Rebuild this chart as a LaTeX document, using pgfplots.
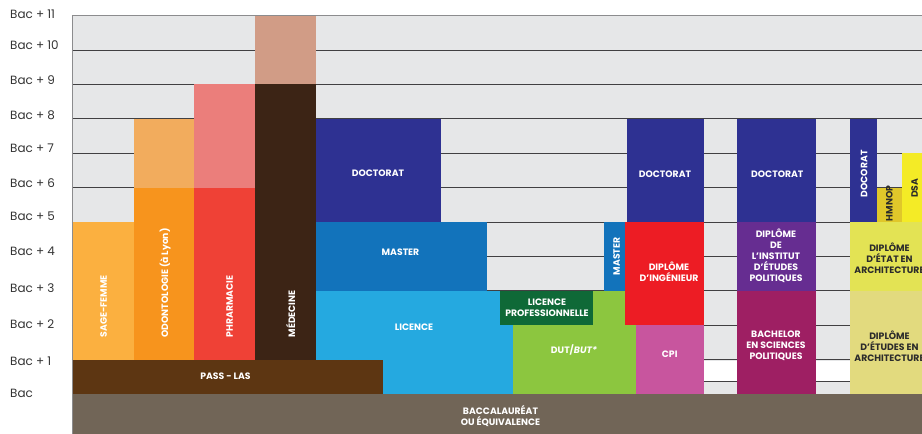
\documentclass[border=0pt]{standalone}
\usepackage{fontspec}
\setmainfont{Poppins}
\usepackage{pgfplots}
\pgfplotsset{compat=1.18}
\definecolor{bgc}{HTML}{E6E7E8}
\definecolor{gridc}{HTML}{414042}
\definecolor{topc}{HTML}{8C8C8E}
\definecolor{cSF}{HTML}{FBB040}
\definecolor{cOD}{HTML}{F7941D}
\definecolor{cODt}{HTML}{F2AC5D}
\definecolor{cPH}{HTML}{EF4136}
\definecolor{cPHt}{HTML}{EB7E7B}
\definecolor{cME}{HTML}{3C2415}
\definecolor{cMEt}{HTML}{D19C86}
\definecolor{cPASS}{HTML}{5D3612}
\definecolor{cDOC}{HTML}{2E3192}
\definecolor{cMAS}{HTML}{1273BB}
\definecolor{cLIC}{HTML}{25A9E0}
\definecolor{cLP}{HTML}{0F6937}
\definecolor{cDUT}{HTML}{8CC63F}
\definecolor{cING}{HTML}{ED1C24}
\definecolor{cCPI}{HTML}{C8559E}
\definecolor{cIEP}{HTML}{662D91}
\definecolor{cBAC}{HTML}{9E1F63}
\definecolor{cHM}{HTML}{E0C72A}
\definecolor{cDSA}{HTML}{F4EB26}
\definecolor{cDEA}{HTML}{E3E354}
\definecolor{cDEEA}{HTML}{E2DA7E}
\definecolor{cBACC}{HTML}{716557}
\definecolor{dtext}{HTML}{2B2B2B}
\newcommand{\rect}[5]{\addplot[fill=#1, draw=none] coordinates {(#2,#4) (#3,#4) (#3,#5) (#2,#5)} -- cycle;}
\newcommand{\hl}[4]{\addplot[draw=#1, line width=0.8bp] coordinates {(#2,#4) (#3,#4)};}
\tikzset{lab/.style={text=white, font=\fontsize{9.3}{11}\selectfont\bfseries, align=center, inner sep=0pt},
 dlab/.style={lab, text=dtext},
 tlab/.style={anchor=west, inner sep=0pt, text=black!80, font=\fontsize{12}{14}\selectfont}}
\begin{document}
\begin{tikzpicture}
\begin{axis}[at={(0,0)}, anchor=south west, scale only axis, width=850bp, height=418.4bp,
  xmin=72, xmax=922, ymin=-1.1628, ymax=11, hide axis, clip=false]
% background
\rect{bgc}{72}{922}{0}{11}
% grid lines
\hl{gridc}{72}{922}{1}
\hl{gridc}{72}{922}{2}
\hl{gridc}{72}{922}{3}
\hl{gridc}{72}{922}{4}
\hl{gridc}{72}{922}{5}
\hl{gridc}{72}{922}{6}
\hl{gridc}{72}{922}{7}
\hl{gridc}{72}{922}{8}
\hl{gridc}{72}{922}{9}
\hl{gridc}{72}{922}{10}
\hl{topc}{72}{922}{11}
% white strips in gaps
\rect{white}{704}{737}{0.39}{0.97}
\rect{white}{816}{850}{0.39}{0.97}
\hl{gridc}{704}{737}{0.38}
\hl{gridc}{816}{850}{0.38}
% health column
\rect{cSF}{72}{134}{1}{5}
\rect{cOD}{134}{194}{1}{6}
\rect{cODt}{134}{194}{6}{8}
\rect{cPH}{194}{255}{1}{6}
\rect{cPHt}{194}{255}{6}{9}
\rect{cME}{255}{316}{1}{9}
\rect{cMEt}{255}{316}{9}{11}
% university
\rect{cLIC}{316}{513}{0}{3}
\rect{cPASS}{72}{383}{0}{1}
\rect{cDUT}{513}{636}{0}{3}
\rect{cLP}{500}{593}{2}{3}
\rect{cMAS}{316}{487}{3}{5}
\rect{cDOC}{316}{441}{5}{8}
\rect{cMAS}{604}{625}{3}{5}
% engineering
\rect{cING}{625}{704}{2}{5}
\rect{cCPI}{636}{704}{0}{2}
\rect{cDOC}{627}{704}{5}{8}
% political science
\rect{cDOC}{737}{816}{5}{8}
\rect{cIEP}{737}{816}{3}{5}
\rect{cBAC}{737}{816}{0}{3}
% architecture
\rect{cDOC}{850}{877}{5}{8}
\rect{cHM}{877}{902}{5}{6}
\rect{cDSA}{902}{922}{5}{7}
\rect{cDEA}{850}{922}{3}{5}
\rect{cDEEA}{850}{922}{0}{3}
% baccalaureat
\rect{cBACC}{72}{922}{-1.1628}{0}
% left axis line
\addplot[draw=topc, line width=0.8bp] coordinates {(72,-1.1628) (72,11)};
% tick labels
\node[tlab] at (axis cs:10,11.05) {Bac + 11};
\node[tlab] at (axis cs:10,10.13) {Bac + 10};
\node[tlab] at (axis cs:10,9.13) {Bac + 9};
\node[tlab] at (axis cs:10,8.10) {Bac + 8};
\node[tlab] at (axis cs:10,7.13) {Bac + 7};
\node[tlab] at (axis cs:10,6.13) {Bac + 6};
\node[tlab] at (axis cs:10,5.17) {Bac + 5};
\node[tlab] at (axis cs:10,4.14) {Bac + 4};
\node[tlab] at (axis cs:10,3.07) {Bac + 3};
\node[tlab] at (axis cs:10,2.02) {Bac + 2};
\node[tlab] at (axis cs:10,0.96) {Bac + 1};
\node[tlab] at (axis cs:10,0.01) {Bac};
% block labels
\node[lab, rotate=90, anchor=west] at (axis cs:103.5,1.64) {SAGE-FEMME};
\node[lab, rotate=90, anchor=west] at (axis cs:165,1.64) {ODONTOLOGIE (à Lyon)};
\node[lab, rotate=90, anchor=west] at (axis cs:229.5,1.64) {PHRARMACIE};
\node[lab, rotate=90, anchor=west] at (axis cs:290.7,1.64) {MÉDECINE};
\node[lab] at (axis cs:225.5,0.51) {PASS - LAS};
\node[lab] at (axis cs:378,6.41) {DOCTORAT};
\node[lab] at (axis cs:400.5,4.11) {MASTER};
\node[lab] at (axis cs:414,1.93) {LICENCE};
\node[lab] at (axis cs:547,2.5) {LICENCE\\PROFESSIONNELLE};
\node[lab] at (axis cs:574,1.29) {DUT/\textit{BUT*}};
\node[lab] at (axis cs:500.5,-0.64) {BACCALAURÉAT\\OU ÉQUIVALENCE};
\node[lab, rotate=90] at (axis cs:616.7,4.0) {MASTER};
\node[lab] at (axis cs:669,3.55) {DIPLÔME\\D'INGÉNIEUR};
\node[lab] at (axis cs:665,6.4) {DOCTORAT};
\node[lab] at (axis cs:669.7,1.16) {CPI};
\node[lab] at (axis cs:777.3,6.4) {DOCTORAT};
\node[lab] at (axis cs:776,4.01) {DIPLÔME\\DE\\L'INSTITUT\\D'ÉTUDES\\POLITIQUES};
\node[lab] at (axis cs:776,1.40) {BACHELOR\\EN SCIENCES\\POLITIQUES};
\node[lab, rotate=90] at (axis cs:864,6.4) {DOCORAT};
\node[dlab, rotate=90] at (axis cs:889.3,5.54) {HMNOP};
\node[dlab, rotate=90] at (axis cs:914.7,5.98) {DSA};
\node[dlab] at (axis cs:889.5,3.95) {DIPLÔME\\D'ÉTAT EN\\ARCHITECTURE};
\node[dlab] at (axis cs:889.5,1.40) {DIPLÔME\\D'ÉTUDES EN\\ARCHITECTURE};
\end{axis}
\pgfresetboundingbox
\path (-72bp,0) rectangle (850bp,434bp);
\end{tikzpicture}
\end{document}
